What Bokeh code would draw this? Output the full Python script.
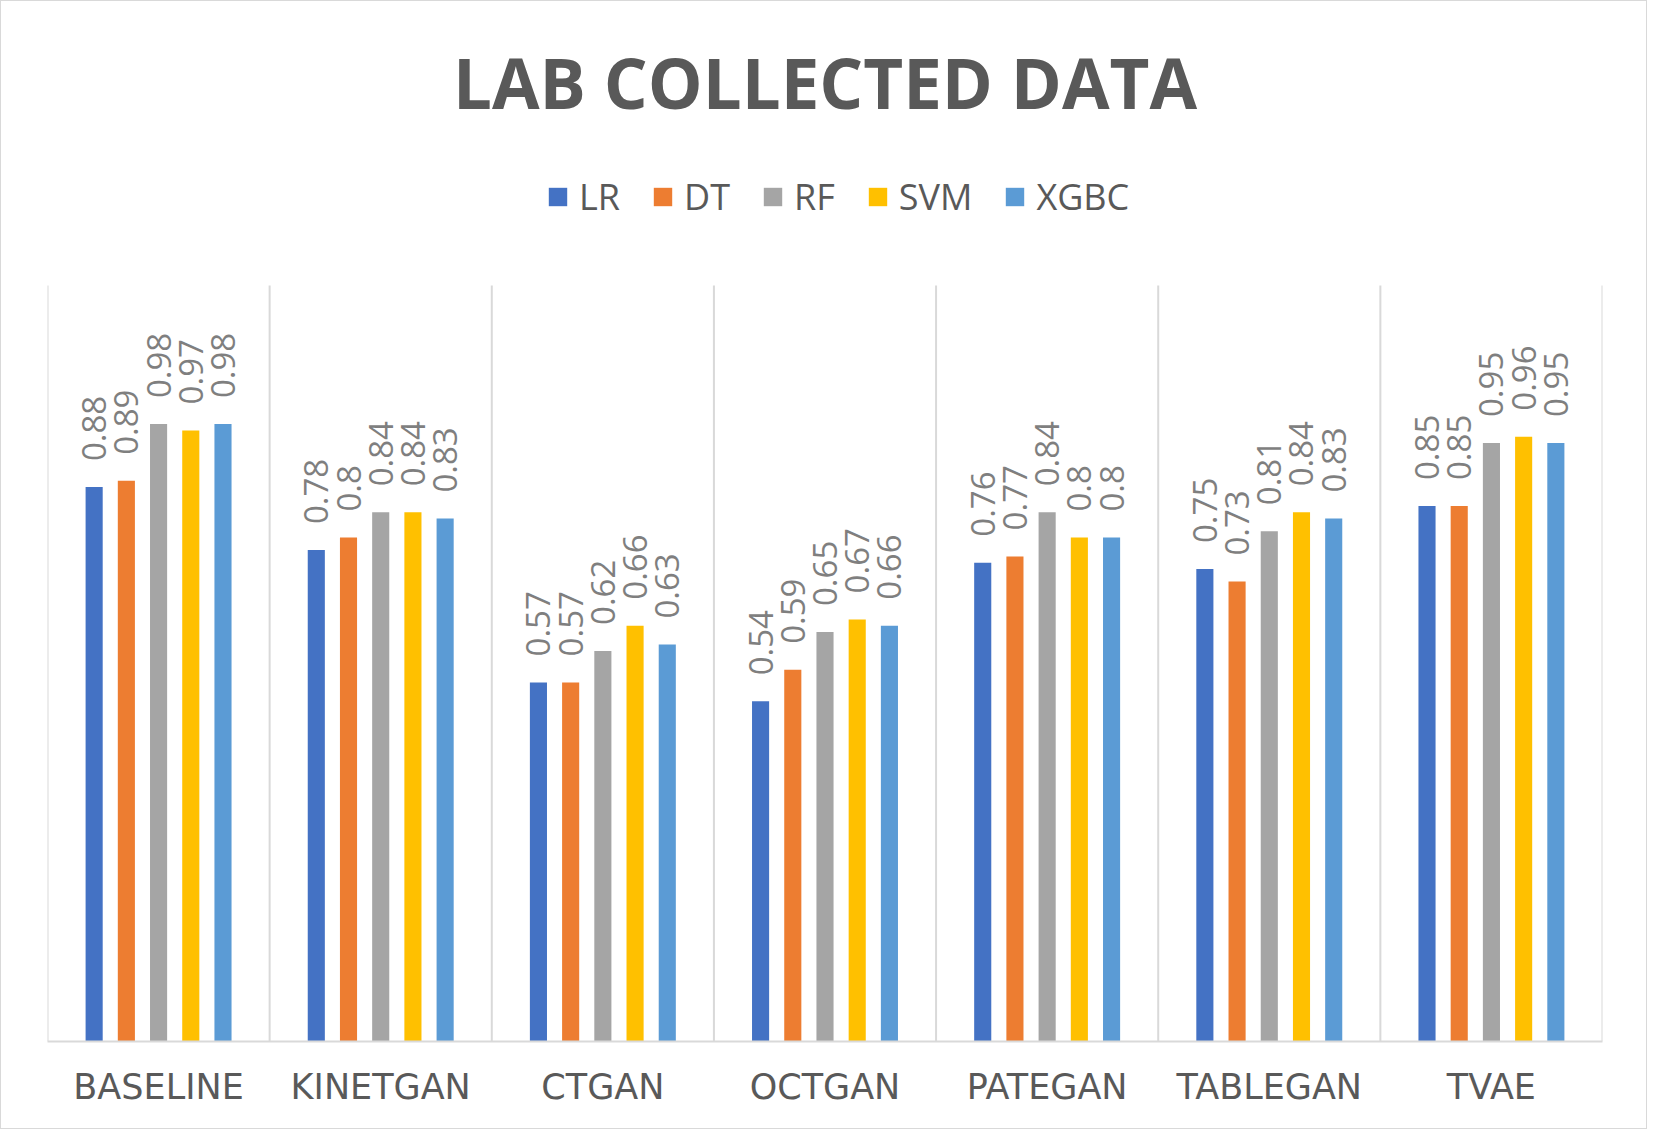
from bokeh.plotting import figure
from bokeh.models import (ColumnDataSource, FactorRange, Range1d, LabelSet, Label, Legend, LegendItem)
from bokeh.core.properties import value
from bokeh.transform import dodge
from bokeh.embed import file_html
from bokeh.resources import INLINE

title_text = "LAB COLLECTED DATA"
categories = ["BASELINE", "KINETGAN", "CTGAN", "OCTGAN", "PATEGAN", "TABLEGAN", "TVAE"]
models = ["LR", "DT", "RF", "SVM", "XGBC"]
lr = [0.88, 0.78, 0.57, 0.54, 0.76, 0.75, 0.85]
dt = [0.89, 0.80, 0.57, 0.59, 0.77, 0.73, 0.85]
rf = [0.98, 0.84, 0.62, 0.65, 0.84, 0.81, 0.95]
svm = [0.97, 0.84, 0.66, 0.67, 0.80, 0.84, 0.96]
xgbc = [0.98, 0.83, 0.63, 0.66, 0.80, 0.83, 0.95]
colors = ["#4472C4", "#ED7D31", "#A5A5A5", "#FFC000", "#5B9BD5"]

series = [lr, dt, rf, svm, xgbc]
data = {"cat": categories}
for m, s in zip(models, series):
    data[m] = s
    data[m + "_lbl"] = [("%.2f" % v).rstrip("0").rstrip(".") for v in s]
source = ColumnDataSource(data)

W, H = 1647, 1129
frame_bottom = 1040          # px from top of figure
scale = 630.0                # px per unit
y_end = frame_bottom / scale
y_top = 1.2

p = figure(width=W, height=H, x_range=FactorRange(*categories, range_padding=0),
           y_range=Range1d(0, y_end), output_backend="svg", toolbar_location=None,
           y_axis_location=None,
           min_border_left=46, min_border_right=46, min_border_top=0,
           min_border_bottom=H - frame_bottom)
p.background_fill_color = "white"
p.border_fill_color = "white"
p.outline_line_color = None
p.xgrid.visible = False
p.ygrid.visible = False

# title
p.add_layout(Label(x=len(categories) / 2, y=(frame_bottom - 80) / scale, text=title_text,
                   text_align="center", text_baseline="alphabetic",
                   text_font="Open Sans", text_font_size="69px", text_font_style="bold",
                   text_color="#595959"))

# category separators
n = len(categories)
p.segment(x0=list(range(n + 1)), y0=[0] * (n + 1), x1=list(range(n + 1)), y1=[y_top] * (n + 1),
          line_color="#D9D9D9", line_width=2)

offsets = [-0.29, -0.145, 0.0, 0.145, 0.29]
items = []
for m, c, off in zip(models, colors, offsets):
    r = p.vbar(x=dodge("cat", off, range=p.x_range), top=m, width=0.077, source=source,
               fill_color=c, line_color=None)
    items.append(LegendItem(label=m, renderers=[r]))
    lbl = LabelSet(x=dodge("cat", off, range=p.x_range), y=m, text=m + "_lbl", source=source,
                   angle=90, angle_units="deg", text_align="left", text_baseline="middle",
                   y_offset=26, text_font=value("Open Sans"), text_font_size=value("33px"),
                   text_color="#7F7F7F")
    p.add_layout(lbl)

legend = Legend(items=items, orientation="horizontal", location=(499, 820),
                glyph_width=23, glyph_height=23, label_standoff=10, spacing=31,
                padding=0, margin=0, border_line_color=None, background_fill_alpha=0,
                label_text_font="Open Sans", label_text_font_size="36px",
                label_text_color="#595959")
p.add_layout(legend, "center")

xa = p.xaxis[0]
xa.axis_line_color = "#D9D9D9"
xa.axis_line_width = 2
xa.major_tick_line_color = None
xa.minor_tick_line_color = None
xa.major_label_standoff = 19
xa.major_label_text_font = "DejaVu Sans"
xa.major_label_text_font_size = "35px"
xa.major_label_text_color = "#595959"

p.styles = {"border": "1px solid #D9D9D9", "box-sizing": "border-box"}

open("out.html", "w").write(file_html(p, INLINE))
